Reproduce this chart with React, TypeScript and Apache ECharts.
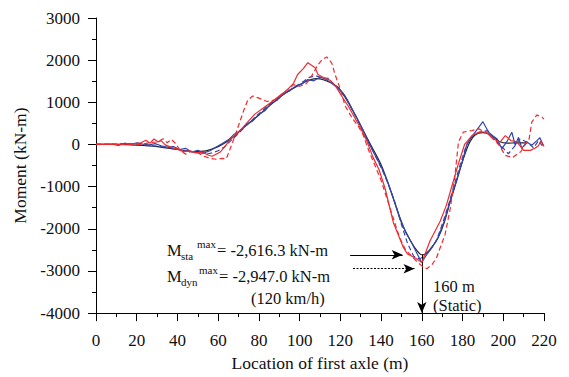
import { useEffect, useRef } from 'react';
import * as echarts from 'echarts';

// Location of first axle (m) vs moment (kN-m)
const staticLine: [number, number][] = [
  [0, 0], [10, 0], [20, -15], [30, -50], [40, -120], [48, -170], [54, -150], [60, -50], [64, 60], [68, 200],
  [72, 380], [76, 540], [80, 700], [84, 870], [88, 1030], [93, 1220], [99, 1390], [104, 1510], [108, 1560],
  [112, 1530], [118, 1390], [122, 1170], [125, 910], [130, 450], [135, -20], [140, -480], [145, -1130],
  [150, -1850], [155, -2330], [158, -2540], [160, -2616.3], [162, -2590], [165, -2430], [168, -2215],
  [171, -1850], [174, -1345], [177, -880], [180, -400], [183, 0], [186, 220], [190, 280], [194, 220],
  [198, 70], [202, 30], [206, 40], [212, 40],
];

const blueSolid: [number, number][] = [
  [0, 0], [4, 0], [8, 10], [11, -20], [14, 30], [17, 0], [20, 40], [23, 10], [26, -10], [29, 20], [32, -30],
  [35, -60], [38, -50], [41, -120], [44, -90], [47, -180], [50, -140], [53, -200], [56, -150], [59, -60],
  [62, 20], [65, 110], [68, 250], [71, 330], [74, 480], [77, 560], [80, 720], [83, 800], [86, 980], [89, 1050],
  [92, 1200], [95, 1270], [98, 1380], [101, 1430], [104, 1540], [107, 1510], [110, 1600], [113, 1540],
  [116, 1440], [119, 1330], [122, 1140], [125, 900], [128, 640], [131, 350], [134, 30], [137, -250],
  [140, -520], [143, -860], [146, -1280], [149, -1700], [152, -2080], [155, -2330], [158, -2620], [160, -2800],
  [162, -2640], [165, -2450], [168, -2200], [171, -1820], [174, -1320], [177, -850], [180, -380], [182, -20],
  [184, 150], [186.3, 300], [190, 540], [192.8, 290], [195, 200], [197, 130], [199.3, -100], [201.7, 60],
  [204.2, 290], [205.9, -20], [207.5, 170], [209.1, -90], [211.6, 60], [214, -20], [216.5, 90], [218, 160],
  [219.6, -20],
];

const blueDashed: [number, number][] = [
  [0, 0], [5, 0], [10, 10], [15, 20], [20, 10], [25, -20], [30, -40], [35, -70], [40, -110], [45, -150],
  [50, -200], [55, -220], [57, -200], [60, -150], [63, -60], [66, 80], [70, 260], [74, 460], [78, 640],
  [82, 820], [86, 990], [90, 1120], [94, 1250], [98, 1380], [102, 1500], [105, 1600], [108, 1630], [111, 1580],
  [114, 1570], [117, 1420], [120, 1280], [123, 1080], [126, 800], [129, 530], [132, 230], [135, -60],
  [138, -350], [141, -650], [144, -1000], [147, -1400], [150, -1900], [153, -2350], [156, -2650], [159, -2720],
  [161, -2640], [164, -2500], [167, -2300], [170, -1900], [173, -1450], [176, -950], [179, -450], [182, 0],
  [185.8, 250], [189, 300], [192.3, 330], [194.5, 200], [197, 60], [200.2, -100], [202.5, -220], [206, -20],
  [208.3, 130], [211.6, 60], [214.9, -80], [217.3, 90], [219, -20], [220, 50],
];

const redSolid: [number, number][] = [
  [0, 0], [5, 0], [10, 0], [15, 10], [20, 20], [22, 40], [24.5, 100], [26.5, 30], [28.5, 130], [30.5, 60],
  [32, 90], [34, -10], [37, -70], [40, -110], [43, -170], [46, -150], [49, -200], [52, -180], [55, -250],
  [57, -280], [59, -230], [61, -180], [63.5, -40], [66, 130], [69, 250], [72, 400], [75, 560], [78, 720],
  [82, 860], [86, 1000], [90, 1150], [94, 1300], [97, 1450], [99, 1660], [101.8, 1800], [104, 1940],
  [107.5, 1825], [109, 1660], [111.7, 1590], [115, 1520], [118, 1360], [121, 1120], [124, 900], [127, 640],
  [130, 380], [133, 80], [136, -300], [139, -600], [142, -1050], [146, -1850], [151, -2450], [153, -2600],
  [157, -2700], [160, -2800], [164, -2290], [169, -1820], [172, -1450], [175, -950], [178, -450], [181, 0],
  [184.6, 210], [188.6, 300], [191.8, 290], [195, 130], [198.5, 60], [201, 210], [203.7, 95], [206.7, 60],
  [210, -140], [213.3, -140], [215.7, -85], [217.3, -30], [218.5, 90], [220, -50],
];

const redDashed: [number, number][] = [
  [0, 0], [10, 0], [18, 10], [22, 0], [26, 40], [30, 60], [33, 135], [35, 40], [37, 120], [39, 30],
  [41, -120], [44, -230], [47, -160], [50, -200], [53, -280], [56, -330], [59, -350], [62, -330], [64, -340],
  [67, 40], [70, 450], [72.5, 800], [74.5, 1050], [77, 1150], [80, 1100], [84, 1020], [88, 1060], [92, 1220],
  [97, 1420], [100, 1380], [103, 1430], [105, 1550], [107, 1720], [109, 1890], [111, 2010], [113.3, 2077],
  [115.8, 1930], [117.4, 1660], [120, 1310], [122.3, 920], [125.6, 640], [129, 415], [131, 250], [134, -150],
  [137, -500], [140, -850], [143, -1300], [146, -1750], [149, -2200], [152, -2500], [155, -2650], [158, -2800],
  [160, -2880], [162.5, -2947], [165, -2850], [167.3, -2680], [169, -2450], [171.4, -2140], [174, -1510],
  [176.3, -730], [178, 60], [180.4, 295], [184.6, 330], [188, 370], [193, 250], [198, -20], [201, -260],
  [204.5, -310], [208.6, -170], [212.7, 134], [214, 530], [216.5, 700], [219, 650], [220, 600],
];

const staticMax = -2616.3;
const dynMax = -2947.0;
const staticMaxLocation = 160;

const FONT = 'Liberation Serif';
const BLUE = '#3447a8';
const RED = '#ee2a30';

const txt = (x: number, y: number, text: string, size: number) => ({
  type: 'text',
  x,
  y,
  style: { text, fontFamily: FONT, fontSize: size, fill: '#111', verticalAlign: 'middle' },
});

export default function App() {
  const ref = useRef<HTMLDivElement>(null);
  useEffect(() => {
    if (!ref.current) return;
    const chart = echarts.init(ref.current, null, { renderer: 'svg' });
    const axisCommon = {
      axisLine: { show: true, onZero: false, lineStyle: { color: '#000', width: 1 } },
      axisTick: { show: true, inside: false, length: 8, lineStyle: { color: '#000' } },
      minorTick: { show: true, splitNumber: 2, length: 4, lineStyle: { color: '#000' } },
      splitLine: { show: false },
      axisLabel: { color: '#111', fontFamily: FONT, fontSize: 17, formatter: (v: number) => String(v) },
      nameTextStyle: { color: '#111', fontFamily: FONT, fontSize: 17.5 },
    };
    const lineSeries = (name: string, data: [number, number][], color: string, dashed: boolean, z: number) => ({
      name,
      type: 'line',
      data,
      symbol: 'none',
      z,
      lineStyle: { color, width: 1.2, type: dashed ? [5, 3] : 'solid' },
    });
    chart.setOption({
      animation: false,
      grid: { left: 96, right: 25, top: 18, bottom: 61 },
      xAxis: {
        type: 'value',
        min: 0,
        max: 220,
        interval: 20,
        name: 'Location of first axle (m)',
        nameLocation: 'middle',
        nameGap: 38,
        ...axisCommon,
        axisLabel: { ...axisCommon.axisLabel, margin: 19 },
      },
      yAxis: {
        type: 'value',
        min: -4000,
        max: 3000,
        interval: 1000,
        name: 'Moment (kN-m)',
        nameLocation: 'middle',
        nameGap: 62,
        ...axisCommon,
        axisLabel: { ...axisCommon.axisLabel, margin: 16 },
      },
      series: [
        {
          ...lineSeries('Static', staticLine, '#222', false, 2),
          smooth: 0.3,
          markLine: {
            silent: true,
            symbol: ['none', 'arrow'],
            symbolSize: [7, 11],
            label: { show: false },
            lineStyle: { color: '#000', width: 1, type: 'solid' },
            data: [
              [{ coord: [124.8, staticMax] }, { coord: [150.6, staticMax] }],
              [
                { coord: [126.2, dynMax], lineStyle: { type: [2, 1.5], color: '#000', width: 1 } },
                { coord: [156.4, dynMax] },
              ],
              [{ coord: [staticMaxLocation, staticMax] }, { coord: [staticMaxLocation, -4000] }],
            ],
          },
        },
        lineSeries('Blue dashed', blueDashed, BLUE, true, 3),
        lineSeries('Blue solid', blueSolid, BLUE, false, 4),
        lineSeries('Red dashed', redDashed, RED, true, 5),
        lineSeries('Red solid', redSolid, RED, false, 6),
      ],
      graphic: [
        txt(167, 250, 'M', 16.5),
        txt(181, 256, 'sta', 11),
        txt(197, 244, 'max', 11),
        txt(217, 250, '= -2,616.3 kN-m', 16.5),
        txt(167, 276, 'M', 16.5),
        txt(181, 282, 'dyn', 11),
        txt(199, 270, 'max', 11),
        txt(219, 276, '= -2,947.0 kN-m', 16.5),
        txt(251, 298, '(120 km/h)', 16.5),
        txt(433, 286, '160 m', 16.5),
        txt(433, 305, '(Static)', 16.5),
      ],
    });
    return () => chart.dispose();
  }, []);
  return <div ref={ref} style={{ position: 'fixed', left: 0, top: 0, width: 569, height: 377, background: '#fff' }} />;
}
